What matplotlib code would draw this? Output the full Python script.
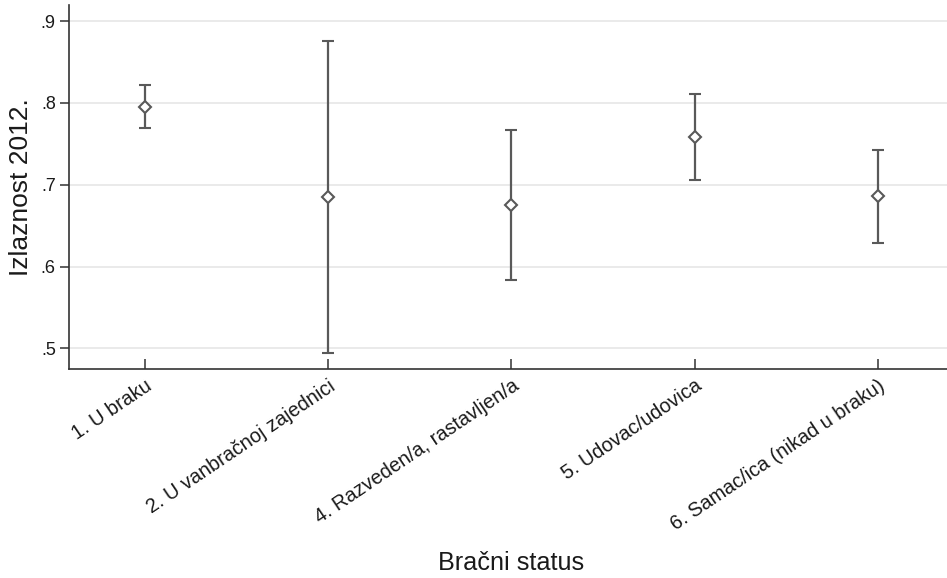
import matplotlib
matplotlib.use("Agg")
import matplotlib.pyplot as plt

plt.rcParams['font.family'] = ['Liberation Sans', 'DejaVu Sans']

# data
categories = ["1. U braku", "2. U vanbračnoj zajednici", "4. Razveden/a, rastavljen/a",
              "5. Udovac/udovica", "6. Samac/ica (nikad u braku)"]
means = [0.795, 0.685, 0.675, 0.758, 0.686]
upper = [0.822, 0.876, 0.767, 0.811, 0.743]
lower = [0.769, 0.494, 0.583, 0.706, 0.629]
yticks = [0.5, 0.6, 0.7, 0.8, 0.9]
yticklabels = [".5", ".6", ".7", ".8", ".9"]

line_col = "#595959"
text_col = "#1a1a1a"

fig = plt.figure(figsize=(9.47, 5.78), dpi=100)
ax = fig.add_axes([0.0729, 0.361, 0.9271, 0.630])

x = list(range(1, len(categories) + 1))
err_lo = [m - l for m, l in zip(means, lower)]
err_hi = [u - m for m, u in zip(means, upper)]
ax.errorbar(x, means, yerr=[err_lo, err_hi], fmt='D', color=line_col,
            ecolor=line_col, elinewidth=1.6, capsize=4, capthick=1.6,
            markersize=6, markerfacecolor='white', markeredgecolor=line_col,
            markeredgewidth=1.5, zorder=3)

ax.set_xlim(0.585, 5.377)
ax.set_ylim(0.4744, 0.9195)
ax.set_yticks(yticks)
ax.set_yticklabels(yticklabels)
ax.set_xticks(x)
ax.set_xticklabels(categories, rotation=34, ha='right', va='top',
                   rotation_mode='anchor')

ax.grid(axis='y', color='#e6e6e6', linewidth=1.2, zorder=0)
ax.set_axisbelow(True)
for s in ['top', 'right']:
    ax.spines[s].set_visible(False)
for s in ['left', 'bottom']:
    ax.spines[s].set_color('#333333')
    ax.spines[s].set_linewidth(1.2)

ax.tick_params(axis='y', direction='out', length=6.5, width=1.1, color='#333333',
               labelsize=13, labelcolor=text_col, pad=3)
ax.tick_params(axis='x', direction='in', length=7, width=1.1, color='#333333',
               labelsize=14.3, labelcolor=text_col, pad=5)

ax.set_ylabel("Izlaznost 2012.", fontsize=19, color=text_col, labelpad=6)
ax.set_xlabel("Bračni status", fontsize=18.2, color=text_col, va='baseline')
ax.xaxis.set_label_coords(0.503, -0.552)

fig.savefig("out.png", dpi=100)
